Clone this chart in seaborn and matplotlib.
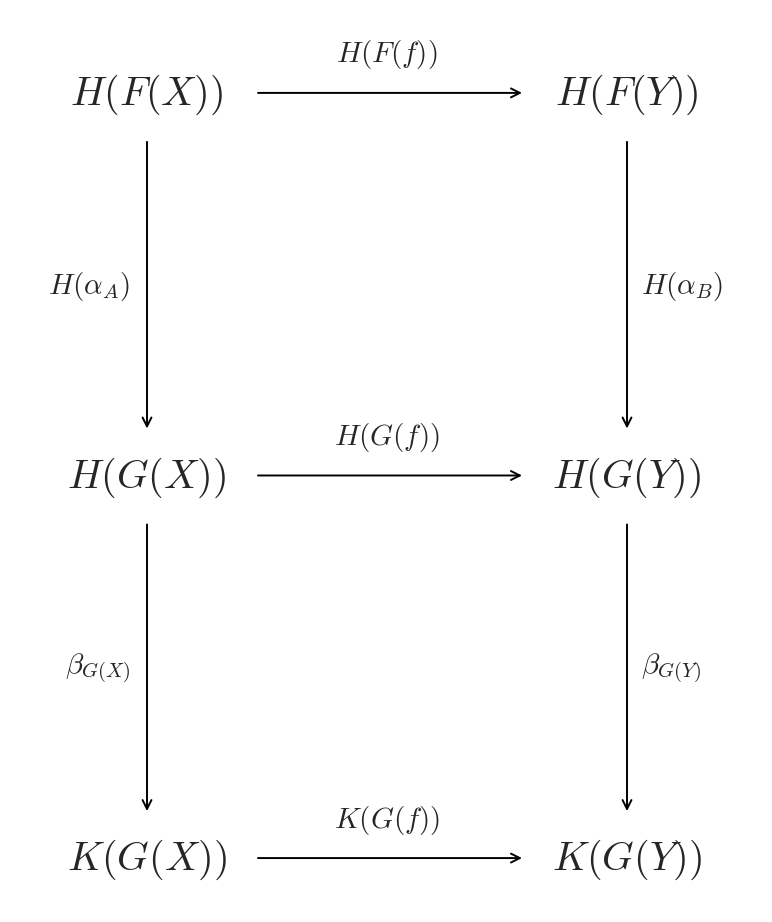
import matplotlib.pyplot as plt
import seaborn as sns

sns.set_style('white')
plt.rcParams['mathtext.fontset'] = 'cm'

# diagram data: objects on a 2 x 3 grid, morphisms between them
nodes = [r'$H(F(X))$', r'$H(F(Y))$',
         r'$H(G(X))$', r'$H(G(Y))$',
         r'$K(G(X))$', r'$K(G(Y))$']
node_col = [0, 1, 0, 1, 0, 1]
node_row = [0, 0, 1, 1, 2, 2]

h_labels = [r'$H(F(f))$', r'$H(G(f))$', r'$K(G(f))$']
v_left = [r'$H(\alpha_A)$', r'$\beta_{G(X)}$']
v_right = [r'$H(\alpha_B)$', r'$\beta_{G(Y)}$']

fig = plt.figure(figsize=(7.72, 9.22), dpi=100)
ax = fig.add_axes([0, 0, 1, 1])
ax.set_xlim(-147 / 480, 1 + 145 / 480)
ax.set_ylim(2 + 62 / 383, -95 / 383)
ax.axis('off')

for t, c, r in zip(nodes, node_col, node_row):
    ax.text(c, r, t, fontsize=29, ha='center', va='center')

arrow = dict(arrowstyle='->', lw=1.4, color='black', shrinkA=0, shrinkB=0,
             mutation_scale=16)
gap_x = 111 / 480   # horizontal arrow starts/ends this far from node centres
gap_top = 47 / 383  # vertical arrow starts below node
gap_bot = 49 / 383  # vertical arrow ends above next node

for r, lab in enumerate(h_labels):
    ax.annotate('', xy=(1 - 105 / 480, r - 2 / 383), xytext=(gap_x, r - 2 / 383),
                arrowprops=arrow)
    ax.text(0.5, r - 40 / 383, lab, fontsize=21, ha='center', va='center')

for r in range(2):
    for c in (0, 1):
        ax.annotate('', xy=(c, r + 1 - gap_bot), xytext=(c, r + gap_top),
                    arrowprops=arrow)
    ym = r + 0.5
    ax.text(-17 / 480, ym, v_left[r], fontsize=21, ha='right', va='center')
    ax.text(1 + 14 / 480, ym, v_right[r], fontsize=21, ha='left', va='center')

fig.savefig('out.png', dpi=100)
